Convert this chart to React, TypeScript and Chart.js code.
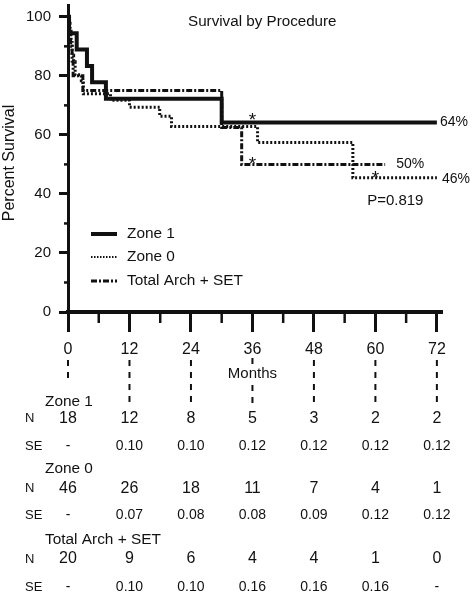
import React, { useEffect, useRef } from "react";
import { Chart, registerables } from "chart.js";

Chart.register(...registerables);

// ---------- data ----------
const tickMonths = [0, 12, 24, 36, 48, 60, 72];
const yTickValues = [0, 20, 40, 60, 80, 100];
const minorYValues = [10, 30, 50, 70, 90];
const minorXMonths = [6, 18, 30, 42, 54, 66];

const seriesNames = ["Zone 1", "Zone 0", "Total Arch + SET"];

const zone1Months = [0, 0.2, 1.7, 3.7, 4.7, 7.4, 30.0, 72];
const zone1Survival = [100, 94.4, 88.9, 83.3, 77.8, 72.2, 64.2, 64.2];

const zone0Months = [0, 0.2, 0.4, 0.6, 0.8, 1.1, 1.4, 2.6, 3.0, 8.3, 12.0, 17.9, 20.2, 37.0, 55.6, 72];
const zone0Survival = [100, 97.8, 95.7, 91.3, 87.0, 84.8, 80.4, 78.3, 73.9, 71.7, 69.4, 66.3, 62.8, 57.4, 45.5, 45.5];

const archMonths = [0, 0.3, 0.5, 0.8, 1.0, 2.9, 30.0, 33.9, 61.9];
const archSurvival = [100, 95, 90, 85, 80, 75, 62.5, 50, 50];

const censorMonths = [36, 36, 60];
const censorSurvival = [64.2, 50, 45.5];

const endLabelMonths = [72, 61.9, 72];
const endLabelSurvival = [64.2, 50, 45.5];
const endLabels = ["64%", "50%", "46%"];

const chartTitle = "Survival by Procedure";
const yAxisTitle = "Percent Survival";
const xAxisTitle = "Months";
const pValueText = "P=0.819";

const zone1N = ["18", "12", "8", "5", "3", "2", "2"];
const zone1SE = ["-", "0.10", "0.10", "0.12", "0.12", "0.12", "0.12"];
const zone0N = ["46", "26", "18", "11", "7", "4", "1"];
const zone0SE = ["-", "0.07", "0.08", "0.08", "0.09", "0.12", "0.12"];
const archN = ["20", "9", "6", "4", "4", "1", "0"];
const archSE = ["-", "0.10", "0.10", "0.16", "0.16", "0.16", "-"];

// ---------- styles ----------
const INK = "#111111";
const FONT = "'Liberation Sans', Arial, Helvetica, sans-serif";
const fnt = (s: number) => `${s}px ${FONT}`;

const lineStyles = [
  { width: 4, dash: [] as number[] },
  { width: 3, dash: [2, 2] },
  { width: 3, dash: [6, 2, 2, 2] },
];

function toPoints(m: number[], s: number[]) {
  return m.map((x, i) => ({ x, y: s[i] }));
}

export default function App() {
  const ref = useRef<HTMLCanvasElement>(null);

  useEffect(() => {
    const canvas = ref.current;
    if (!canvas) return;

    const overlay = {
      id: "overlay",
      afterDraw(chart: any) {
        const ctx: CanvasRenderingContext2D = chart.ctx;
        const xs = chart.scales.x;
        const ys = chart.scales.y;
        const X = (v: number) => xs.getPixelForValue(v);
        const Y = (v: number) => ys.getPixelForValue(v);
        const area = chart.chartArea;
        ctx.save();
        ctx.fillStyle = INK;
        ctx.strokeStyle = INK;

        // minor ticks
        ctx.lineWidth = 2.5;
        minorYValues.forEach((v) => {
          ctx.beginPath();
          ctx.moveTo(area.left - 4, Y(v));
          ctx.lineTo(area.left, Y(v));
          ctx.stroke();
        });
        minorXMonths.forEach((m) => {
          ctx.beginPath();
          ctx.moveTo(X(m), area.bottom);
          ctx.lineTo(X(m), area.bottom + 11);
          ctx.stroke();
        });

        // title
        ctx.font = fnt(15.2);
        ctx.textAlign = "left";
        ctx.textBaseline = "middle";
        ctx.fillText(chartTitle, 188, 21.5);

        // y title
        ctx.save();
        ctx.translate(10, 163);
        ctx.rotate(-Math.PI / 2);
        ctx.textAlign = "center";
        ctx.font = fnt(16);
        ctx.fillText(yAxisTitle, 0, 0);
        ctx.restore();

        // legend
        const legendY = [234, 257, 281];
        seriesNames.forEach((name, i) => {
          const st = lineStyles[i];
          ctx.save();
          ctx.lineWidth = i === 1 ? 2 : st.width;
          ctx.setLineDash(i === 1 ? [1.5, 1.5] : st.dash);
          ctx.beginPath();
          ctx.moveTo(91, legendY[i]);
          ctx.lineTo(117, legendY[i]);
          ctx.stroke();
          ctx.restore();
          ctx.font = fnt(15.4);
          ctx.textAlign = "left";
          ctx.textBaseline = "middle";
          ctx.fillText(name, 127, legendY[i]);
        });

        // end labels
        ctx.font = fnt(14);
        ctx.textAlign = "left";
        ctx.textBaseline = "middle";
        const endOffsets = [3, 11, 5];
        endLabels.forEach((t, i) => {
          ctx.fillText(t, X(endLabelMonths[i]) + endOffsets[i], Y(endLabelSurvival[i]) + (i === 2 ? 1 : 0));
        });

        // p value
        ctx.font = fnt(15);
        ctx.fillText(pValueText, X(58) + 2, Y(37.5));

        // censor asterisks
        ctx.font = fnt(19);
        ctx.textAlign = "center";
        ctx.textBaseline = "alphabetic";
        censorMonths.forEach((m, i) => {
          ctx.fillText("*", X(m), Y(censorSurvival[i]) + (i === 0 ? 4 : 6));
        });

        // dashed column guides
        ctx.save();
        ctx.lineWidth = 2;
        ctx.setLineDash([6, 6]);
        tickMonths.forEach((m) => {
          const x = X(m);
          const segs: number[][] =
            m === 0 ? [[360, 382]] : m === 36 ? [[358, 366], [385, 408]] : [[360, 408]];
          segs.forEach(([a, b]) => {
            ctx.beginPath();
            ctx.moveTo(x, a);
            ctx.lineTo(x, b);
            ctx.stroke();
          });
        });
        ctx.restore();

        // months label
        ctx.font = fnt(15);
        ctx.textAlign = "center";
        ctx.textBaseline = "middle";
        ctx.fillText(xAxisTitle, X(36), 374);

        // table
        const groups = [
          { name: seriesNames[0], n: zone1N, se: zone1SE, y: [401.5, 418.5, 446] },
          { name: seriesNames[1], n: zone0N, se: zone0SE, y: [469, 488.5, 515.5] },
          { name: seriesNames[2], n: archN, se: archSE, y: [540, 559, 587] },
        ];
        groups.forEach((g) => {
          ctx.textAlign = "left";
          ctx.font = fnt(15.4);
          ctx.fillText(g.name, 45, g.y[0]);
          ctx.font = fnt(13);
          ctx.fillText("N", 25, g.y[1]);
          ctx.fillText("SE", 25, g.y[2]);
          ctx.textAlign = "center";
          ctx.font = fnt(16);
          g.n.forEach((v, i) => ctx.fillText(v, X(tickMonths[i]), g.y[1]));
          ctx.font = fnt(14);
          g.se.forEach((v, i) => ctx.fillText(v, X(tickMonths[i]), g.y[2]));
        });

        ctx.restore();
      },
    };

    const series = [
      toPoints(zone1Months, zone1Survival),
      toPoints(zone0Months, zone0Survival),
      toPoints(archMonths, archSurvival),
    ];

    const chart = new Chart(canvas, {
      type: "line",
      data: {
        datasets: series.map((d, i) => ({
          label: seriesNames[i],
          data: d,
          borderColor: INK,
          backgroundColor: INK,
          borderWidth: lineStyles[i].width,
          borderDash: lineStyles[i].dash,
          borderCapStyle: "butt",
          stepped: "before",
          pointRadius: 0,
          fill: false,
        })),
      },
      options: {
        responsive: false,
        animation: false,
        devicePixelRatio: 1,
        layout: { padding: { left: 0, right: 32, top: 5, bottom: 228 } },
        plugins: {
          legend: { display: false },
          tooltip: { enabled: false },
          title: { display: false },
        },
        scales: {
          x: {
            type: "linear",
            min: 0,
            max: 73,
            afterBuildTicks: (s: any) => {
              s.ticks = tickMonths.map((v) => ({ value: v }));
            },
            afterFit: (s: any) => {
              s.height = 60;
              s.paddingLeft = 0;
              s.paddingRight = 0;
            },
            ticks: {
              font: { family: FONT, size: 16 },
              color: INK,
              padding: 8,
              maxRotation: 0,
              autoSkip: false,
            },
            grid: { drawOnChartArea: false, tickLength: 20, tickWidth: 3, tickColor: INK },
            border: { display: true, width: 4, color: INK },
          },
          y: {
            type: "linear",
            min: 0,
            max: 104,
            afterBuildTicks: (s: any) => {
              s.ticks = yTickValues.map((v) => ({ value: v }));
            },
            afterFit: (s: any) => {
              s.width = 68;
              s.paddingTop = 0;
              s.paddingBottom = 0;
            },
            ticks: { font: { family: FONT, size: 15 }, color: INK, padding: 8 },
            grid: { drawOnChartArea: false, tickLength: 9, tickWidth: 3, tickColor: INK },
            border: { display: true, width: 3, color: INK },
          },
        },
      } as any,
      plugins: [overlay],
    });

    return () => chart.destroy();
  }, []);

  return (
    <div style={{ position: "absolute", left: 0, top: 0, width: 474, height: 600, background: "#fff" }}>
      <canvas ref={ref} width={474} height={600} style={{ display: "block" }} />
    </div>
  );
}
